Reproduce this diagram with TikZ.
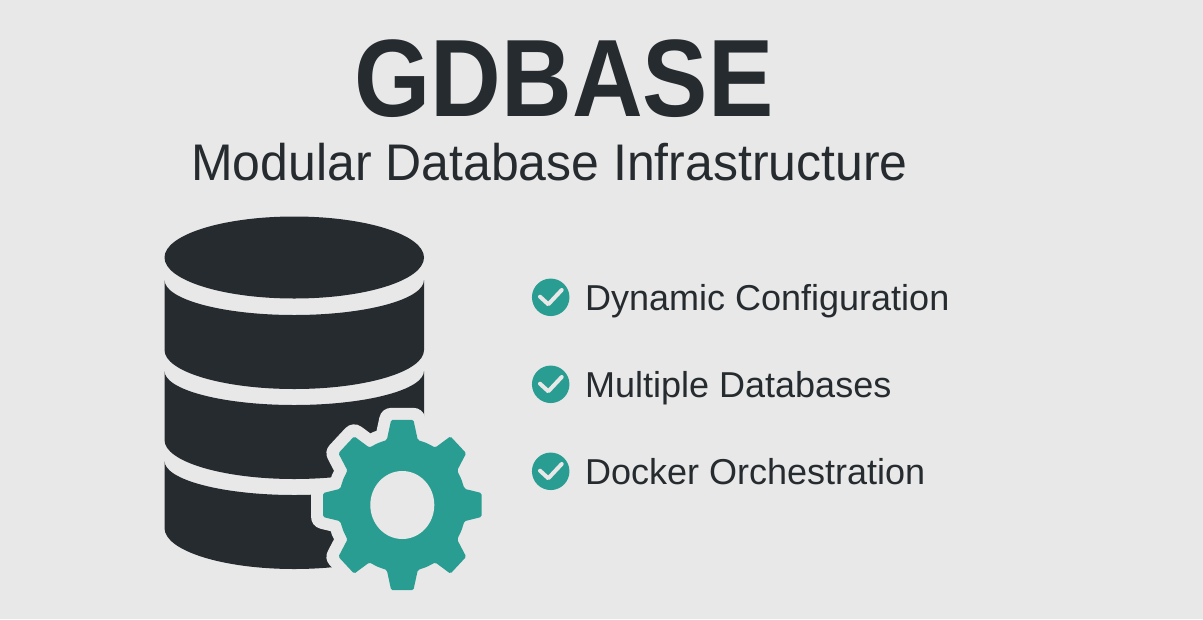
\documentclass[tikz,border=0pt]{standalone}
\usepackage{fontspec}
\setmainfont{Liberation Sans}
\usetikzlibrary{positioning}
\definecolor{dbback}{HTML}{E8E8E8}
\definecolor{dbdark}{HTML}{262B2F}
\definecolor{dbteal}{HTML}{2A9D92}
\tikzset{
  band/.style={fill=dbdark},
  itemlabel/.style={anchor=base west,inner sep=0pt,text=dbdark,font=\fontsize{36}{36}\selectfont},
  tickdisc/.style={circle,fill=dbteal,minimum size=37.5pt,inner sep=0pt},
  tickline/.style={draw=dbback,line width=4pt,line cap=round,line join=round}
}
\newcommand{\gearoutline}{
  (-14:64 and 67)
  \foreach \a in {0,45,...,315} {
    -- (\a-14:64 and 67) -- (\a-8:80 and 86) -- (\a+8:80 and 86)
    -- (\a+14:64 and 67) -- (\a+22.5:64 and 67)
  } -- cycle
}
\begin{document}
\begin{tikzpicture}[x=1pt,y=-1pt]
\fill[dbback] (0,0) rectangle (1203,619);
\node[anchor=base,inner sep=0pt,text=dbdark,font=\fontsize{110}{110}\selectfont\bfseries] (title) at (564,116) {\scalebox{0.89}[1]{GDBASE}};
\node[anchor=base,inner sep=0pt,text=dbdark,font=\fontsize{51.5}{52}\selectfont] (subtitle) at (549.5,180) {\scalebox{0.97}[1]{Modular Database Infrastructure}};
% database
\fill[dbdark] (294.25,257.5) ellipse [x radius=129.75,y radius=41];
\fill[band] (164.5,280) arc[start angle=180,end angle=0,x radius=129.75,y radius=35] -- (424,350) arc[start angle=0,end angle=180,x radius=129.75,y radius=39] -- cycle;
\fill[band] (164.5,371) arc[start angle=180,end angle=0,x radius=129.75,y radius=34] -- (424,440) arc[start angle=0,end angle=180,x radius=129.75,y radius=39] -- cycle;
\fill[band] (164.5,461) arc[start angle=180,end angle=0,x radius=129.75,y radius=34] -- (424,528) arc[start angle=0,end angle=180,x radius=129.75,y radius=41] -- cycle;
% gear
\begin{scope}[shift={(402.3,505)}]
\filldraw[dbback,line width=24pt,line join=round] \gearoutline;
\fill[dbteal,rounded corners=1.5pt] \gearoutline;
\fill[dbback] (0,0) ellipse [x radius=32,y radius=34];
\end{scope}
% items
\node[tickdisc] (disca) at (550.7,297.3) {};
\node[tickdisc] (discb) at (550.7,384.3) {};
\node[tickdisc] (discc) at (550.7,471.3) {};
\foreach \n in {disca,discb,discc} {
  \draw[tickline] ([shift={(-10.7,-0.6)}]\n.center) -- ([shift={(-2.4,7)}]\n.center) -- ([shift={(11,-7.3)}]\n.center);
}
\node[itemlabel] (itema) at (585,310) {Dynamic Configuration};
\node[itemlabel] (itemb) at (585,397) {Multiple Databases};
\node[itemlabel] (itemc) at (585,484) {Docker Orchestration};
\end{tikzpicture}
\end{document}
